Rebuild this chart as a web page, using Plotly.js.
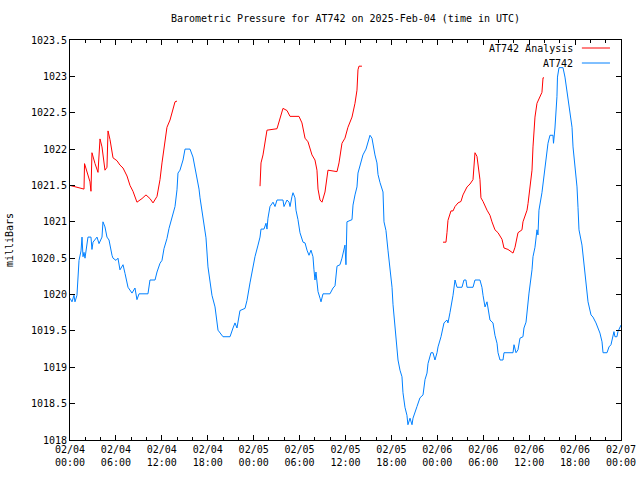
<!DOCTYPE html>
<html>
<head>
<meta charset="utf-8">
<script src="https://cdn.plot.ly/plotly-3.0.1.min.js"></script>
<style>html,body{margin:0;padding:0;background:#fff;}#chart{width:640px;height:480px;}</style>
</head>
<body>
<div id="chart"></div>
<script>
// Hours since 2025-02-04 00:00 UTC; null marks a gap in the analysis series
const analysisHours = [0.0,1.31,1.83,1.9,2.61,2.74,2.87,3.27,3.66,3.92,4.18,4.57,4.83,4.97,5.23,5.62,6.14,6.53,6.93,7.45,7.84,8.23,8.75,9.41,9.93,10.45,10.85,11.37,11.76,12.02,12.41,12.67,13.07,13.46,13.72,13.98,
  null,
  24.83,24.96,25.22,25.48,25.74,27.05,27.44,27.83,28.36,28.75,29.92,30.31,30.71,31.10,31.62,32.01,32.27,32.41,32.67,32.93,33.32,33.58,33.71,34.89,35.15,35.54,35.93,36.32,36.85,37.24,37.50,37.63,37.76,38.15,
  null,
  48.74,49.13,49.26,49.39,49.78,50.05,50.31,50.70,51.09,51.35,51.88,52.27,52.66,52.92,53.18,53.31,53.57,53.70,53.97,54.49,54.88,55.14,55.53,55.93,56.45,56.71,57.23,57.89,58.15,58.54,59.06,59.19,59.72,59.85,60.24,60.37,60.50,60.76,61.02,61.28,61.67,61.81,61.94];
const analysisValues = [1021.50,1021.47,1021.45,1021.80,1021.55,1021.42,1021.95,1021.80,1021.68,1022.14,1022.03,1021.71,1021.75,1022.25,1022.13,1021.88,1021.84,1021.78,1021.74,1021.63,1021.50,1021.42,1021.27,1021.32,1021.37,1021.32,1021.26,1021.35,1021.58,1021.81,1022.13,1022.30,1022.40,1022.54,1022.65,1022.66,
  null,
  1021.49,1021.81,1021.92,1022.08,1022.26,1022.28,1022.44,1022.56,1022.53,1022.45,1022.45,1022.36,1022.15,1022.10,1021.92,1021.85,1021.71,1021.45,1021.30,1021.27,1021.41,1021.58,1021.71,1021.69,1021.81,1022.08,1022.15,1022.30,1022.44,1022.63,1022.81,1023.09,1023.14,1023.14,
  null,
  1020.72,1020.72,1020.85,1021.02,1021.15,1021.15,1021.21,1021.26,1021.28,1021.37,1021.48,1021.52,1021.58,1021.95,1021.90,1021.79,1021.58,1021.33,1021.28,1021.16,1021.09,1021.00,1020.89,1020.85,1020.76,1020.64,1020.62,1020.57,1020.65,1020.85,1020.89,1021.00,1021.16,1021.25,1021.55,1021.71,1022.03,1022.44,1022.63,1022.70,1022.78,1022.98,1022.98];

const stationHours = [0.00,0.26,0.52,0.65,0.91,1.05,1.18,1.44,1.57,1.70,1.83,1.96,2.22,2.35,2.74,2.87,3.01,3.53,3.79,4.18,4.31,4.57,4.83,5.10,5.49,5.62,6.01,6.27,6.53,6.93,7.19,7.58,8.10,8.49,8.75,9.02,10.19,10.45,11.11,11.37,11.76,12.02,12.28,12.67,12.94,13.33,13.72,13.98,14.11,14.37,14.77,15.03,15.68,16.07,16.33,16.59,16.86,16.99,17.38,17.77,18.03,18.55,18.95,19.21,19.34,19.99,20.91,21.30,21.56,21.82,22.21,22.87,23.13,23.52,23.91,24.17,24.57,24.83,24.96,25.35,25.61,25.74,25.87,26.13,26.53,26.79,27.05,27.83,27.96,28.36,28.62,28.75,29.01,29.14,29.40,29.53,29.79,30.05,30.45,30.71,30.97,31.23,31.49,31.75,31.88,32.01,32.14,32.27,32.41,32.67,32.80,33.06,33.97,34.37,34.63,34.89,35.28,35.54,35.80,35.93,36.06,36.19,36.85,36.98,37.24,37.50,37.63,38.02,38.28,38.68,38.94,39.20,39.46,39.59,39.85,40.11,40.25,40.51,40.90,41.03,41.29,41.55,41.81,42.08,42.21,42.47,42.73,42.86,43.12,43.38,43.51,43.77,44.03,44.16,44.43,44.69,44.82,45.08,45.34,45.73,46.13,46.39,46.65,46.78,47.17,47.43,47.69,47.96,48.09,48.48,48.61,48.87,49.26,49.39,49.65,49.92,50.05,50.31,50.57,51.22,51.48,51.74,51.88,52.66,52.92,53.57,53.83,53.97,54.23,54.49,54.62,54.88,55.27,55.53,55.80,55.93,56.19,56.58,56.71,57.89,58.02,58.28,58.54,58.80,59.19,59.32,59.59,59.72,59.98,60.37,60.50,60.76,61.02,61.15,61.28,61.67,62.07,62.33,62.46,62.72,63.11,63.18,63.24,63.37,63.63,63.70,63.90,64.42,64.68,64.94,65.07,65.33,65.60,65.73,65.99,66.25,66.38,66.51,66.90,67.16,67.55,67.69,68.08,68.34,68.73,68.99,69.25,69.52,69.65,70.17,70.43,70.69,70.95,71.08,71.21,71.47,71.60,71.86,72.00];
const stationValues = [1019.95,1019.90,1019.99,1019.90,1019.99,1020.20,1020.47,1020.60,1020.79,1020.52,1020.58,1020.50,1020.72,1020.79,1020.79,1020.62,1020.72,1020.79,1020.70,1020.79,1021.00,1020.93,1020.79,1020.75,1020.54,1020.50,1020.47,1020.50,1020.34,1020.41,1020.29,1020.10,1020.02,1020.09,1019.93,1020.01,1020.01,1020.20,1020.20,1020.31,1020.43,1020.47,1020.63,1020.77,1020.91,1021.07,1021.21,1021.44,1021.67,1021.71,1021.85,1022.00,1022.00,1021.89,1021.75,1021.60,1021.45,1021.33,1021.03,1020.78,1020.38,1019.99,1019.83,1019.62,1019.51,1019.42,1019.42,1019.54,1019.61,1019.54,1019.78,1019.81,1019.92,1020.16,1020.37,1020.52,1020.68,1020.79,1020.90,1020.90,1020.98,1020.90,1021.05,1021.21,1021.27,1021.21,1021.30,1021.30,1021.21,1021.30,1021.27,1021.21,1021.35,1021.40,1021.33,1021.16,1021.03,1020.85,1020.72,1020.71,1020.61,1020.54,1020.61,1020.52,1020.34,1020.20,1020.31,1020.18,1020.04,1019.95,1019.90,1020.01,1020.01,1020.09,1020.12,1020.39,1020.41,1020.50,1020.61,1020.68,1020.41,1021.00,1021.03,1021.23,1021.37,1021.48,1021.67,1021.82,1021.92,1022.00,1022.08,1022.19,1022.15,1022.06,1021.92,1021.81,1021.65,1021.54,1021.41,1021.00,1020.88,1020.61,1020.34,1020.10,1019.86,1019.55,1019.28,1019.10,1018.96,1018.87,1018.65,1018.45,1018.34,1018.21,1018.30,1018.21,1018.30,1018.37,1018.46,1018.58,1018.62,1018.83,1018.92,1019.05,1019.20,1019.20,1019.10,1019.20,1019.28,1019.42,1019.49,1019.61,1019.65,1019.61,1019.75,1019.90,1019.99,1020.20,1020.10,1020.10,1020.20,1020.20,1020.10,1020.10,1020.20,1020.20,1020.10,1019.99,1019.83,1019.90,1019.83,1019.65,1019.61,1019.44,1019.33,1019.20,1019.10,1019.10,1019.20,1019.20,1019.31,1019.20,1019.24,1019.40,1019.42,1019.54,1019.62,1019.76,1020.02,1020.34,1020.52,1020.65,1020.89,1020.82,1021.16,1021.40,1021.71,1021.95,1022.08,1022.19,1022.19,1022.08,1022.15,1022.29,1022.72,1022.99,1023.12,1023.12,1022.99,1022.81,1022.67,1022.50,1022.30,1022.03,1021.75,1021.48,1021.20,1020.89,1020.68,1020.43,1020.10,1019.90,1019.72,1019.69,1019.61,1019.55,1019.47,1019.35,1019.20,1019.20,1019.28,1019.31,1019.47,1019.49,1019.42,1019.42,1019.49,1019.55,1019.58];

const seriesNames = ["AT742 Analysis", "AT742"];
const seriesColors = ["#ff0000", "#0080ff"];
const chartTitle = "Barometric Pressure for AT742 on 2025-Feb-04 (time in UTC)";
const yTitle = "milliBars";
const startUTC = Date.UTC(2025, 1, 4, 0, 0, 0);

function toDate(h) {
  if (h === null) return null;
  return new Date(startUTC + h * 3600000).toISOString().slice(0, 19).replace('T', ' ');
}

const font = {family: "DejaVu Sans Mono, monospace", size: 10, color: "#000"};

const traces = [
  {x: analysisHours.map(toDate), y: analysisValues, mode: "lines", name: seriesNames[0],
   line: {color: seriesColors[0], width: 1}, connectgaps: false, showlegend: false},
  {x: stationHours.map(toDate), y: stationValues, mode: "lines", name: seriesNames[1],
   line: {color: seriesColors[1], width: 1}, showlegend: false}
];

const legendY = [0.98, 0.9425];
const layout = {
  width: 640, height: 480,
  margin: {l: 70, r: 19, t: 40, b: 40},
  paper_bgcolor: "#fff", plot_bgcolor: "#fff",
  font: font,
  title: {text: chartTitle, font: font, xref: "paper", x: 0.5, xanchor: "center", y: 0.962, yanchor: "middle"},
  xaxis: {
    type: "date",
    range: [toDate(0), toDate(72)],
    dtick: 6 * 3600000,
    tick0: toDate(0),
    tickformat: "%m/%d<br>%H:%M",
    ticks: "inside", ticklen: 5, tickcolor: "#000", tickwidth: 1,
    minor: {dtick: 2 * 3600000, ticks: "inside", ticklen: 3, tickcolor: "#000", showgrid: false},
    showline: true, linecolor: "#000", linewidth: 1, mirror: "allticks",
    showgrid: false, zeroline: false, tickfont: font
  },
  yaxis: {
    range: [1018, 1023.5],
    dtick: 0.5,
    tickformat: ".1~f",
    ticks: "inside", ticklen: 5, tickcolor: "#000", tickwidth: 1,
    showline: true, linecolor: "#000", linewidth: 1, mirror: "allticks",
    showgrid: false, zeroline: false, tickfont: font,
    title: {text: yTitle, font: font, standoff: 15}
  },
  annotations: seriesNames.map((n, i) => ({
    text: n, xref: "paper", yref: "paper", x: 0.9165, y: legendY[i],
    xanchor: "right", yanchor: "middle", showarrow: false, font: font
  })),
  shapes: seriesNames.map((n, i) => ({
    type: "line", xref: "paper", yref: "paper", x0: 0.929, x1: 0.98, y0: legendY[i], y1: legendY[i],
    line: {color: seriesColors[i], width: 1}
  }))
};

Plotly.newPlot("chart", traces, layout, {displayModeBar: false, staticPlot: true});
</script>
</body>
</html>
